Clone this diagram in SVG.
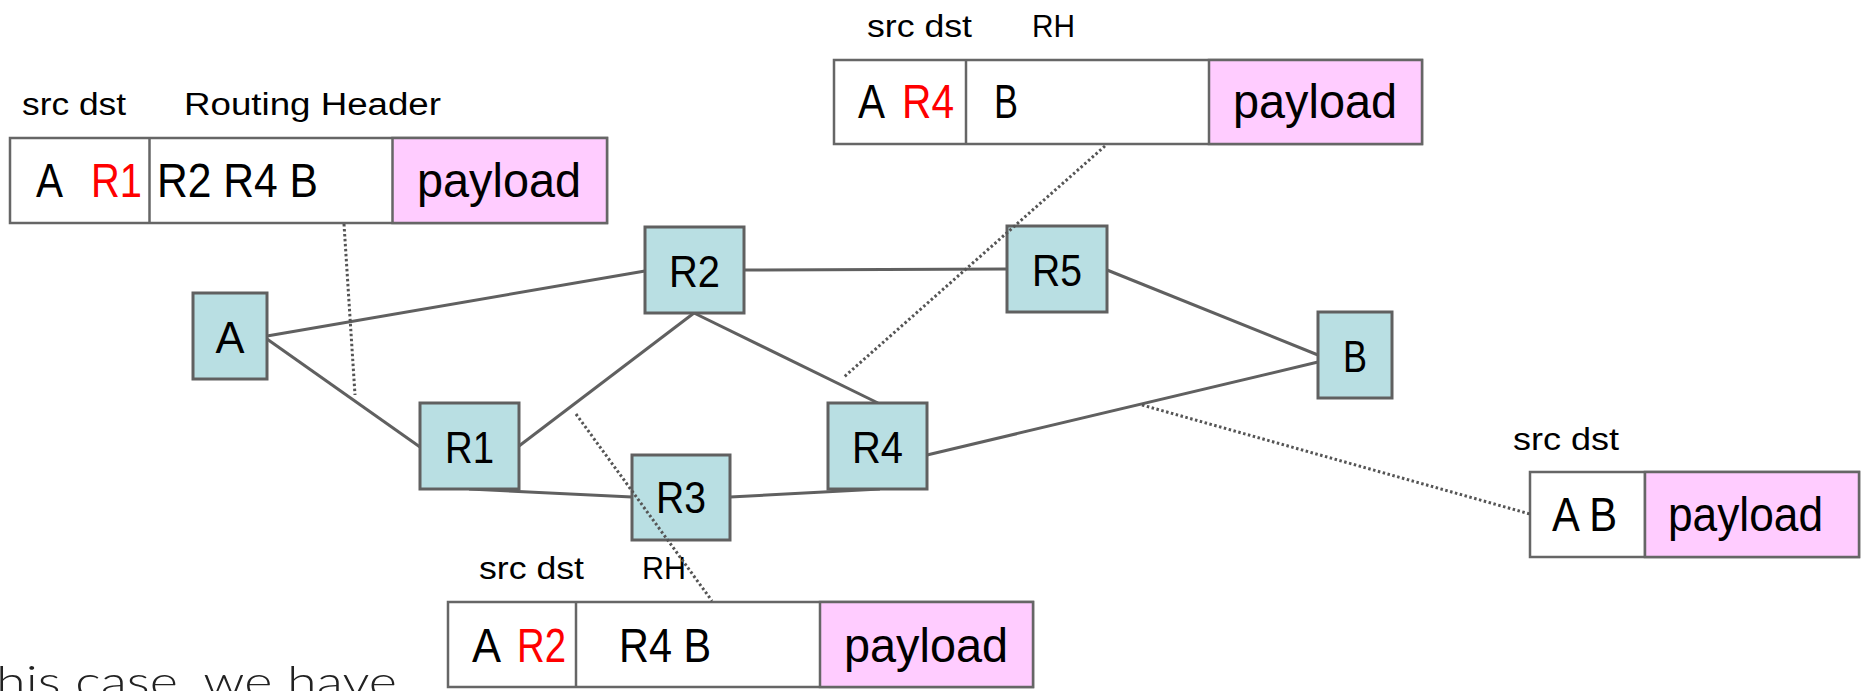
<svg xmlns="http://www.w3.org/2000/svg" width="1866" height="691" viewBox="0 0 1866 691">
<style>
.bg{fill:#ffffff}
.node rect{fill:#b9dfe3;stroke:#606060;stroke-width:3}
.node text{font-family:"Liberation Sans",Arial,sans-serif;font-size:45px;fill:#000;text-anchor:middle}
.edge{stroke:#606060;stroke-width:3;fill:none}
.dot{stroke:#555555;stroke-width:3;fill:none;stroke-dasharray:2.5 2.5}
.cell{fill:#ffffff;stroke:#666666;stroke-width:2.5}
.pay{fill:#ffccff;stroke:#666666;stroke-width:2.5}
.big{font-family:"Liberation Sans",Arial,sans-serif;font-size:48px;fill:#000}
.red{fill:#ff0000}
.lbl{font-family:"Liberation Sans",Arial,sans-serif;font-size:31px;fill:#000}
.note{font-family:Lato,"Liberation Sans",sans-serif;font-weight:300;font-size:44px;fill:#222}
</style>
<rect class="bg" x="0" y="0" width="1866" height="691"/>

<g id="connectors">
<line class="edge" x1="267" y1="336" x2="645" y2="271"/>
<line class="edge" x1="267" y1="339" x2="420" y2="447"/>
<line class="edge" x1="519" y1="446" x2="694" y2="313"/>
<line class="edge" x1="469" y1="489" x2="632" y2="497"/>
<line class="edge" x1="744" y1="270" x2="1007" y2="269"/>
<line class="edge" x1="694" y1="313" x2="878" y2="403"/>
<line class="edge" x1="1107" y1="270" x2="1318" y2="355"/>
<line class="edge" x1="927" y1="455" x2="1318" y2="362"/>
<line class="edge" x1="730" y1="497" x2="880" y2="489"/>
</g>

<g id="node-A" class="node"><rect x="193" y="293" width="74" height="86"/><text x="230" y="353" textLength="29" lengthAdjust="spacingAndGlyphs">A</text></g>
<g id="node-R1" class="node"><rect x="420" y="403" width="99" height="86"/><text x="469.5" y="463" textLength="49" lengthAdjust="spacingAndGlyphs">R1</text></g>
<g id="node-R2" class="node"><rect x="645" y="227" width="99" height="86"/><text x="694.5" y="287" textLength="51" lengthAdjust="spacingAndGlyphs">R2</text></g>
<g id="node-R3" class="node"><rect x="632" y="455" width="98" height="85"/><text x="681" y="513" textLength="50" lengthAdjust="spacingAndGlyphs">R3</text></g>
<g id="node-R4" class="node"><rect x="828" y="403" width="99" height="86"/><text x="877.5" y="463" textLength="51" lengthAdjust="spacingAndGlyphs">R4</text></g>
<g id="node-R5" class="node"><rect x="1007" y="226" width="100" height="86"/><text x="1057" y="286" textLength="50" lengthAdjust="spacingAndGlyphs">R5</text></g>
<g id="node-B" class="node"><rect x="1318" y="312" width="74" height="86"/><text x="1355" y="372" textLength="24" lengthAdjust="spacingAndGlyphs">B</text></g>

<g id="packet-1">
<rect class="cell" x="10" y="138" width="597" height="85"/>
<line class="cell" x1="149.5" y1="138" x2="149.5" y2="223"/>
<rect class="pay" x="392.5" y="138" width="214.5" height="85"/>
<text class="lbl" x="22" y="115" textLength="104" lengthAdjust="spacingAndGlyphs">src dst</text>
<text class="lbl" x="184" y="115" textLength="257" lengthAdjust="spacingAndGlyphs">Routing Header</text>
<text class="big" x="36" y="197" textLength="27" lengthAdjust="spacingAndGlyphs">A</text>
<text class="big red" x="91" y="197" textLength="51" lengthAdjust="spacingAndGlyphs">R1</text>
<text class="big" x="157" y="197" textLength="161" lengthAdjust="spacingAndGlyphs">R2 R4 B</text>
<text class="big" x="417" y="197" textLength="164" lengthAdjust="spacingAndGlyphs">payload</text>
</g>

<g id="packet-2">
<rect class="cell" x="834" y="60" width="588" height="84"/>
<line class="cell" x1="966" y1="60" x2="966" y2="144"/>
<rect class="pay" x="1209" y="60" width="213" height="84"/>
<text class="lbl" x="867" y="37" textLength="105" lengthAdjust="spacingAndGlyphs">src dst</text>
<text class="lbl" x="1032" y="37" textLength="43" lengthAdjust="spacingAndGlyphs">RH</text>
<text class="big" x="858" y="118" textLength="27" lengthAdjust="spacingAndGlyphs">A</text>
<text class="big red" x="902" y="118" textLength="52" lengthAdjust="spacingAndGlyphs">R4</text>
<text class="big" x="994" y="118" textLength="24" lengthAdjust="spacingAndGlyphs">B</text>
<text class="big" x="1233" y="118" textLength="164" lengthAdjust="spacingAndGlyphs">payload</text>
</g>

<g id="packet-3">
<rect class="cell" x="448" y="602" width="585" height="85"/>
<line class="cell" x1="576" y1="602" x2="576" y2="687"/>
<rect class="pay" x="820" y="602" width="213" height="85"/>
<text class="lbl" x="479" y="579" textLength="105" lengthAdjust="spacingAndGlyphs">src dst</text>
<text class="lbl" x="642" y="579" textLength="44" lengthAdjust="spacingAndGlyphs">RH</text>
<text class="big" x="472" y="662" textLength="29" lengthAdjust="spacingAndGlyphs">A</text>
<text class="big red" x="517" y="662" textLength="49" lengthAdjust="spacingAndGlyphs">R2</text>
<text class="big" x="619" y="662" textLength="92" lengthAdjust="spacingAndGlyphs">R4 B</text>
<text class="big" x="844" y="662" textLength="164" lengthAdjust="spacingAndGlyphs">payload</text>
</g>

<g id="packet-4">
<rect class="cell" x="1530" y="472" width="329" height="85"/>
<line class="cell" x1="1645" y1="472" x2="1645" y2="557"/>
<rect class="pay" x="1645" y="472" width="214" height="85"/>
<text class="lbl" x="1513" y="450" textLength="106" lengthAdjust="spacingAndGlyphs">src dst</text>
<text class="big" x="1552" y="531" textLength="65" lengthAdjust="spacingAndGlyphs">A B</text>
<text class="big" x="1668" y="531" textLength="155" lengthAdjust="spacingAndGlyphs">payload</text>
</g>

<g id="callouts">
<line class="dot" x1="344" y1="224" x2="355" y2="395"/>
<line class="dot" x1="1105" y1="146" x2="844" y2="377"/>
<line class="dot" x1="576" y1="414" x2="712" y2="601"/>
<line class="dot" x1="1142" y1="405" x2="1530" y2="514"/>
</g>

<text class="note" x="-4" y="697" textLength="401" lengthAdjust="spacingAndGlyphs">his case, we have</text>
</svg>
